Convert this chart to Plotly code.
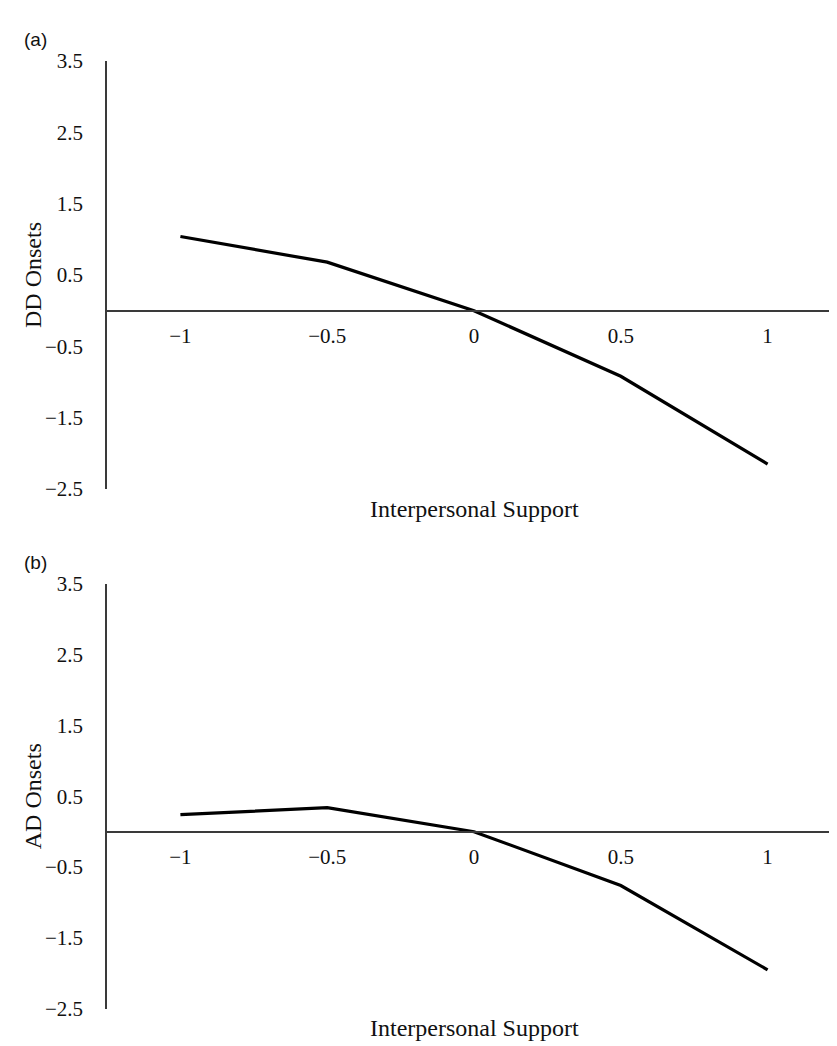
import plotly.graph_objects as go

# Data
x_vals = [-1, -0.5, 0, 0.5, 1]
dd_onsets = [1.04, 0.68, 0.0, -0.92, -2.15]
ad_onsets = [0.24, 0.34, 0.0, -0.76, -1.95]
y_ticks = [3.5, 2.5, 1.5, 0.5, -0.5, -1.5, -2.5]
y_tick_text = ["3.5", "2.5", "1.5", "0.5", "\u22120.5", "\u22121.5", "\u22122.5"]
x_tick_text = ["\u22121", "\u22120.5", "0", "0.5", "1"]
panel_labels = ["(a)", "(b)"]
y_titles = ["DD Onsets", "AD Onsets"]
x_title = "Interpersonal Support"

W, H = 837, 1046
SERIF = "Liberation Serif, Times New Roman, serif"
SANS = "Liberation Sans, Arial, sans-serif"
YR = [-2.5, 3.5]
XR = [-1.25, 1.25]
x_dom = [99 / W, 833 / W]
y_doms = [[1 - 480 / H, 1 - 42 / H], [1 - 1012 / H, 1 - 577 / H]]

fig = go.Figure()
series = [dd_onsets, ad_onsets]
layout = dict(
    width=W, height=H, margin=dict(l=0, r=0, t=0, b=0),
    paper_bgcolor="white", plot_bgcolor="white", showlegend=False,
    annotations=[],
)
axis_color = "#3a3a3a"
text_color = "#111111"
for i in range(2):
    xa = "x" if i == 0 else "x2"
    ya = "y" if i == 0 else "y2"
    fig.add_trace(go.Scatter(x=x_vals, y=series[i], mode="lines",
                             line=dict(color="black", width=3.2),
                             xaxis=xa, yaxis=ya, hoverinfo="skip"))
    dom = y_doms[i]
    zero_pos = dom[0] + (0 - YR[0]) / (YR[1] - YR[0]) * (dom[1] - dom[0])
    xkey = "xaxis" if i == 0 else "xaxis2"
    ykey = "yaxis" if i == 0 else "yaxis2"
    layout[xkey] = dict(
        domain=x_dom, range=XR, anchor="free", position=zero_pos,
        showline=True, linecolor=axis_color, linewidth=1.5,
        showgrid=False, zeroline=False, ticks="",
        tickmode="array", tickvals=x_vals, ticktext=x_tick_text,
        tickfont=dict(family=SERIF, size=21, color=text_color),
        ticklabelstandoff=6, fixedrange=True,
    )
    layout[ykey] = dict(
        domain=dom, range=YR, anchor=xa, showline=True,
        linecolor=axis_color, linewidth=1.5, showgrid=False,
        zeroline=False, ticks="",
        tickmode="array", tickvals=y_ticks, ticktext=y_tick_text,
        tickfont=dict(family=SERIF, size=21, color=text_color),
        ticklabelstandoff=18, fixedrange=True,
    )
    mid = (dom[0] + dom[1]) / 2
    layout["annotations"].append(dict(
        text=y_titles[i], x=25 / W, y=mid, xref="paper", yref="paper",
        xanchor="center", yanchor="middle", textangle=-90, showarrow=False,
        font=dict(family=SERIF, size=24, color=text_color)))
    layout["annotations"].append(dict(
        text=x_title, x=(x_dom[0] + x_dom[1]) / 2,
        y=dom[0] - 20 / H, xref="paper", yref="paper",
        xanchor="center", yanchor="middle", showarrow=False,
        font=dict(family=SERIF, size=24, color=text_color)))
    layout["annotations"].append(dict(
        text=panel_labels[i], x=14 / W, y=dom[1] + 22 / H,
        xref="paper", yref="paper", xanchor="left", yanchor="middle",
        showarrow=False, font=dict(family=SANS, size=19, color=text_color)))

fig.update_layout(**layout)
fig.write_html("out.html")
